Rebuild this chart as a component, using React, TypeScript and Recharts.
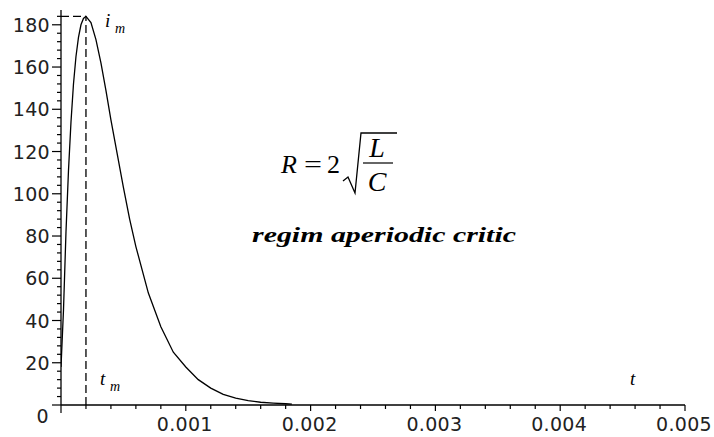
import React from 'react';
import { LineChart, Line, XAxis, YAxis, ReferenceLine } from 'recharts';

// time samples (s) and current (A)
const TIME = [
  0, 0.00002, 0.00004, 0.00006, 0.00008, 0.0001, 0.00012, 0.00014, 0.00016, 0.00018,
  0.0002, 0.00024, 0.00028, 0.00032, 0.00036, 0.0004, 0.00045, 0.0005, 0.00055, 0.0006,
  0.0007, 0.0008, 0.0009, 0.001, 0.0011, 0.0012, 0.0013, 0.0014, 0.0015, 0.0016,
  0.0017, 0.0018, 0.00185,
];
const CURRENT = [
  18, 45, 82, 111, 134, 152, 165, 174, 180, 183,
  184, 181, 173, 162, 149, 135, 119, 103, 88, 75,
  53, 37, 25, 18, 12, 8, 5, 3.2, 2.1, 1.3,
  0.9, 0.6, 0.4,
];

const T_MAX = 0.0002;
const I_MAX = 184;

const X_LABELS = ['0.001', '0.002', '0.003', '0.004', '0.005'];
const Y_LABELS = ['0', '20', '40', '60', '80', '100', '120', '140', '160', '180'];

const X_STEP = 0.0002;
const Y_STEP = 4;
const xTicks = Array.from({ length: 26 }, (_, k) => k * X_STEP);
const yTicks = Array.from({ length: 47 }, (_, k) => k * Y_STEP);

const data = TIME.map((t, k) => ({ t, i: CURRENT[k] }));

const tickFont = { fontFamily: 'DejaVu Sans', fontSize: 19, fill: '#222' };

const YTick = (props: any) => {
  const { x, y, payload } = props;
  const v = Math.round(payload.value);
  const major = v % 20 === 0;
  const label = major ? Y_LABELS[v / 20] : null;
  return (
    <g>
      <line x1={x} x2={x - (major ? 9 : 4)} y1={y} y2={y} stroke="#000" strokeWidth={1.2} />
      {label != null && (
        <text
          x={v === 0 ? x - 12 : x - 11}
          y={v === 0 ? y + 18 : y + 7}
          textAnchor="end"
          letterSpacing={0.3}
          {...tickFont}
        >
          {label}
        </text>
      )}
    </g>
  );
};

const XTick = (props: any) => {
  const { x, y, payload } = props;
  const k = Math.round(payload.value / X_STEP);
  const major = k % 5 === 0;
  const label = major && k > 0 ? X_LABELS[k / 5 - 1] : null;
  return (
    <g>
      <line x1={x} x2={x} y1={y} y2={y + (major ? (k === 0 ? 8 : 6) : 4)} stroke="#000" strokeWidth={1.2} />
      {label && (
        <text x={x - 1} y={y + 26} textAnchor="middle" letterSpacing={0.3} {...tickFont}>
          {label}
        </text>
      )}
    </g>
  );
};

const serif = 'Liberation Serif';

const Notes = () => (
  <svg
    width={714}
    height={437}
    style={{ position: 'absolute', left: 0, top: 0, pointerEvents: 'none' }}
  >
    {/* i_m */}
    <text x={105} y={27} fontFamily={serif} fontStyle="italic" fontSize={19}>i</text>
    <text x={115} y={33} fontFamily={serif} fontStyle="italic" fontSize={14}>m</text>
    {/* t_m */}
    <text x={100} y={385} fontFamily={serif} fontStyle="italic" fontSize={19}>t</text>
    <text x={110} y={391} fontFamily={serif} fontStyle="italic" fontSize={14}>m</text>
    {/* t */}
    <text x={630} y={385} fontFamily={serif} fontStyle="italic" fontSize={19}>t</text>

    {/* R = 2 sqrt(L/C) */}
    <text x={281} y={173} fontFamily={serif} fontStyle="italic" fontSize={26}>R</text>
    <text x={304} y={173} fontFamily={serif} fontSize={26} textLength={18} lengthAdjust="spacingAndGlyphs">=</text>
    <text x={327} y={173} fontFamily={serif} fontSize={26}>2</text>
    <path
      d="M343 181 L348 177 L355 193 L361 133 L397 133"
      fill="none"
      stroke="#000"
      strokeWidth={1.3}
    />
    <line x1={363} x2={393} y1={163} y2={163} stroke="#000" strokeWidth={1.2} />
    <text x={377} y={157} textAnchor="middle" fontFamily={serif} fontStyle="italic" fontSize={28}>L</text>
    <text x={377} y={191} textAnchor="middle" fontFamily={serif} fontStyle="italic" fontSize={28}>C</text>

    <text
      x={252}
      y={242}
      fontFamily={serif}
      fontStyle="italic"
      fontWeight="bold"
      fontSize={22}
      textLength={264}
      lengthAdjust="spacingAndGlyphs"
    >
      regim aperiodic critic
    </text>
  </svg>
);

export default function App() {
  return (
    <div style={{ position: 'absolute', left: 0, top: 0, width: 714, height: 437, background: '#fff' }}>
      <LineChart width={714} height={437} data={data} margin={{ top: 10, right: 29, bottom: 0, left: 0 }}>
        <XAxis
          dataKey="t"
          type="number"
          domain={[0, 0.005]}
          ticks={xTicks}
          interval={0}
          allowDataOverflow
          height={32}
          tickSize={0}
          tickMargin={0}
          tickLine={false}
          axisLine={{ stroke: '#000', strokeWidth: 1.3 }}
          tick={<XTick />}
        />
        <YAxis
          type="number"
          domain={[0, 187]}
          ticks={yTicks}
          interval={0}
          allowDataOverflow
          width={61}
          tickSize={0}
          tickMargin={0}
          tickLine={false}
          axisLine={{ stroke: '#000', strokeWidth: 1.3 }}
          tick={<YTick />}
        />
        <ReferenceLine
          segment={[{ x: T_MAX, y: 0 }, { x: T_MAX, y: I_MAX }]}
          stroke="#000"
          strokeWidth={1.3}
          strokeDasharray="8 4"
        />
        <ReferenceLine
          segment={[{ x: 0, y: I_MAX }, { x: T_MAX, y: I_MAX }]}
          stroke="#000"
          strokeWidth={1.3}
          strokeDasharray="8 4"
        />
        <Line
          type="linear"
          dataKey="i"
          stroke="#000"
          strokeWidth={1.3}
          dot={false}
          isAnimationActive={false}
        />
      </LineChart>
      <Notes />
    </div>
  );
}
